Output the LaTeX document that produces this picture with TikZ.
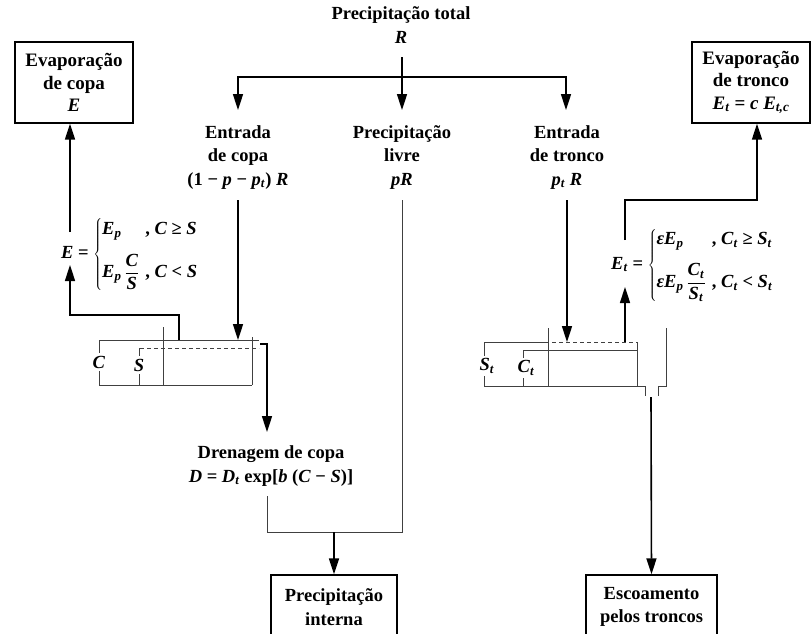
\documentclass[tikz,border=0pt]{standalone}
\usepackage{fontspec}
\setmainfont{Liberation Serif}
\usetikzlibrary{arrows.meta}
\newcommand\vi[1]{\textbf{\textit{#1}}}
\newcommand\sbi[1]{\textsubscript{\vi{#1}}}
\begin{document}
\begin{tikzpicture}[x=1pt,y=-1pt,
  every node/.style={font=\fontsize{18.5}{23.5}\selectfont\bfseries, inner sep=0pt},
  lbl/.style={align=center, anchor=base},
  box/.style={draw, line width=1.4pt, align=center},
  topbox/.style={box, font=\fontsize{19}{22.5}\selectfont\bfseries, minimum width=118pt, minimum height=81pt},
  botbox/.style={box, minimum height=64pt},
  arr/.style={line width=1.6pt, -{Triangle[length=16pt,width=10pt]}},
  thin/.style={line width=1pt, black!75},
  tlabel/.style={fill=white, inner xsep=0.5pt, inner ysep=3pt},
]
\useasboundingbox (0,0) rectangle (811,633);
\clip (0,0) rectangle (811,633);
% text nodes (base = baseline of the last line)
\node[lbl] (tot) at (401,43) {Precipitação total\\\vi{R}};
\node[lbl] (ecopa) at (238,185) {Entrada\\de copa\\(1 − \vi{p} − \vi{p}\sbi{t}) \vi{R}};
\node[lbl] (livre) at (402,185) {Precipitação\\livre\\\vi{pR}};
\node[lbl] (etronco) at (567,185) {Entrada\\de tronco\\\vi{p}\sbi{t} \vi{R}};
\node[lbl] (dren) at (271,482) {Drenagem de copa\\\vi{D} = \vi{D}\sbi{t} exp[\vi{b} (\vi{C} − \vi{S})]};
% boxes
\node[topbox] (bevc) at (74,82.5) {Evaporação\\de copa\\\vi{E}};
\node[topbox] (bevt) at (751,82.5) {Evaporação\\de tronco\\\vi{E}\sbi{t} = \vi{c} \vi{E}\sbi{t,c}};
\node[botbox, minimum width=126pt] (bpi) at (334,607) {Precipitação\\interna};
\node[botbox, minimum width=131pt] (besc) at (651.5,607) {Escoamento\\pelos troncos};
% formulas
\node[anchor=west] (fE) at (61,254) {\vi{E} = $\left\{\begin{array}{@{}l@{\hspace{6pt}}l@{}}
  \mbox{\vi{E}\sbi{p}} & \mbox{, \vi{C} ≥ \vi{S}}\\[12pt]
  \mbox{\vi{E}\sbi{p}}\,\displaystyle\frac{\mbox{\vi{C}}}{\mbox{\vi{S}}} & \mbox{, \vi{C} < \vi{S}}
  \end{array}\right.$};
\node[anchor=west] (fEt) at (611,265) {\vi{E}\sbi{t} = $\left\{\begin{array}{@{}l@{\hspace{6pt}}l@{}}
  \mbox{\vi{εE}\sbi{p}} & \mbox{, \vi{C}\sbi{t} ≥ \vi{S}\sbi{t}}\\[12pt]
  \mbox{\vi{εE}\sbi{p}}\,\displaystyle\frac{\mbox{\vi{C}\sbi{t}}}{\mbox{\vi{S}\sbi{t}}} & \mbox{, \vi{C}\sbi{t} < \vi{S}\sbi{t}}
  \end{array}\right.$};
% coordinates
\coordinate (a0) at (402,57);
\coordinate (jH) at (402,77);
\coordinate (aL) at (238,110);
\coordinate (aM) at (402,110);
\coordinate (aR) at (566,110);
\coordinate (cTop) at (238,200);
\coordinate (tankL) at (238,340);
\coordinate (lTop) at (402,200);
\coordinate (lBot) at (402,532);
\coordinate (dTop) at (267,496);
\coordinate (jD) at (336,532);
\coordinate (drA) at (260,344);
\coordinate (drB) at (267,432);
\coordinate (evA) at (179,340);
\coordinate (evB) at (70,315);
\coordinate (evC) at (70,265);
\coordinate (evD) at (70,232);
\coordinate (evE) at (70,123.7);
\coordinate (tTop) at (567,200);
\coordinate (tankR) at (567,342);
\coordinate (etA) at (625,342);
\coordinate (etB) at (625,287);
\coordinate (etC) at (625,240);
\coordinate (etD) at (757,200);
\coordinate (etE) at (757,123.7);
\coordinate (oA) at (651,397);
% left tank
\draw[thin] (99,340) -- (259,340);
\draw[thin, dash pattern=on 4pt off 3pt] (140,348) -- (259,348);
\draw[thin] (163,327) -- (163,385);
\draw[thin] (252,337) -- (252,385);
\draw[thin] (99,385) -- (252,385);
\draw[thin] (99,340) -- (99,385);
\draw[thin] (139,348) -- (139,385);
\node[tlabel] (lC) at (99,362) {\vi{C}};
\node[tlabel] (lS) at (139,365) {\vi{S}};
% right tank
\draw[thin] (484,342) -- (548,342);
\draw[thin, dash pattern=on 4pt off 3pt] (552,342) -- (637,342);
\draw[thin] (523,350) -- (637,350);
\draw[thin] (548,328) -- (548,386);
\draw[thin] (637,342) -- (637,386);
\draw[thin] (484,386) -- (637,386);
\draw[thin] (484,342) -- (484,386);
\draw[thin] (523,350) -- (523,386);
\node[tlabel] (lSt) at (487,366) {\vi{S}\sbi{t}};
\node[tlabel] (lCt) at (526,368) {\vi{C}\sbi{t}};
\draw[thin] (666,328) -- (666,386) -- (658,386) -- (658,396);
\draw[thin] (637,386) -- (645,386) -- (645,396);
% connectors
\draw[arr] (a0) -- (aM);
\draw[arr] (jH) -| (aL);
\draw[arr] (jH) -| (aR);
\draw[arr] (cTop) -- (tankL);
\draw[thin] (lTop) -- (lBot) -| (dTop);
\draw[arr] (bpi.north |- jD) -- (bpi.north);
\draw[arr] (drA) -| (drB);
\draw[arr] (evA) |- (evB) -- (evC);
\draw[arr] (evD) -- (evE);
\draw[arr] (tTop) -- (tankR);
\draw[arr] (etA) -- (etB);
\draw[arr] (etC) |- (etD) -- (etE);
\draw[arr] (oA) -- (besc.north);
\end{tikzpicture}
\end{document}
